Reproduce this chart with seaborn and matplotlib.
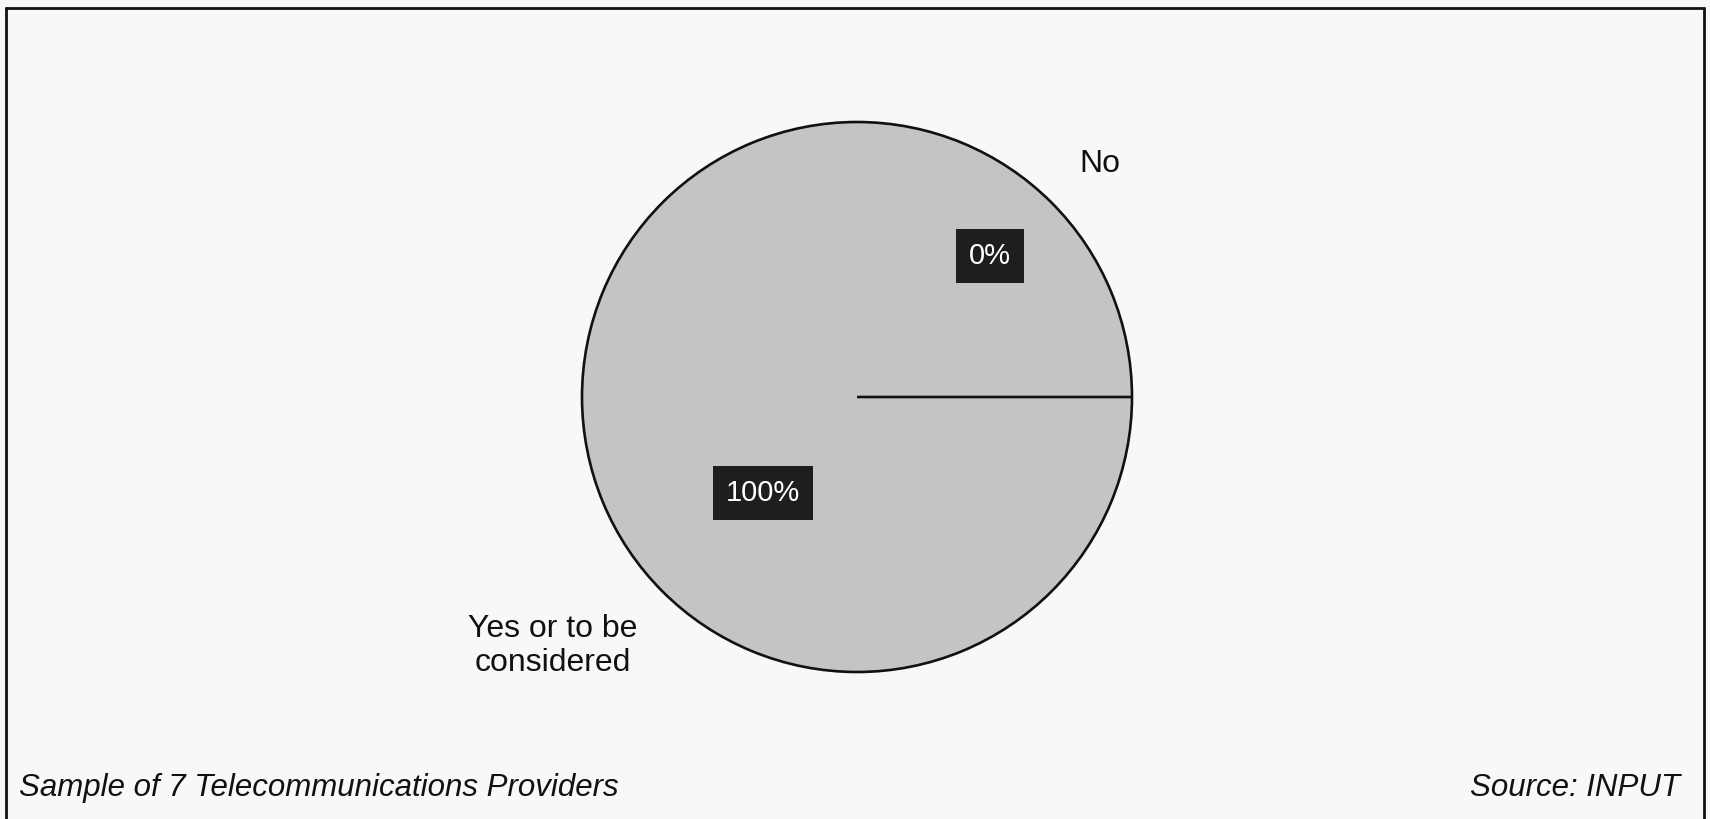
import numpy as np
import matplotlib
matplotlib.use("Agg")
import matplotlib.pyplot as plt
import seaborn as sns
from matplotlib.lines import Line2D

# Survey answers (sample of 7 providers)
answers = ['No', 'Yes or to be\nconsidered']
counts = [0, 7]

sns.set_theme(style='white')
plt.rcParams['font.family'] = ['Liberation Sans', 'DejaVu Sans']

bg = '#f8f8fa'
fig = plt.figure(figsize=(17.1, 8.19), dpi=100, facecolor=bg)

# pie centre at (857, 397) px, radius 275 px
R = 275
k = 1.44
W, H = 1710, 819
half = k * R
ax = fig.add_axes([(857 - half) / W, 1 - (397 + half) / H, 2 * half / W, 2 * half / H])
ax.set_facecolor('none')

wedges, texts, autotexts = ax.pie(
    counts, labels=answers, autopct='%1.0f%%', startangle=0, counterclock=True,
    colors=['#c4c4c4', '#c4c4c4'],
    wedgeprops=dict(edgecolor='#111111', linewidth=1.9),
    textprops=dict(fontsize=20, color='#111111'),
)
# the empty "No" slice only shows as its edge line; keep it on top
wedges[0].set_zorder(3)
ax.set_xlim(-k, k)
ax.set_ylim(-k, k)
ax.set_aspect('equal')
ax.axis('off')

# place labels like the original
label_pos = [(0.884, 0.847), (-1.105, -0.905)]
pct_pos = [(0.484, 0.513), (-0.342, -0.349)]
for t, p in zip(texts, label_pos):
    t.set_position(p)
    t.set_ha('center')
    t.set_va('center')
    t.set_fontsize(23)
    t.set_linespacing(1.2)
for t, p in zip(autotexts, pct_pos):
    t.set_position(p)
    t.set_ha('center')
    t.set_va('center')
    t.set_color('white')
    t.set_fontsize(21)
    t.set_zorder(5)
    t.set_bbox(dict(boxstyle='square,pad=0.45', facecolor='#1e1e20', edgecolor='none'))

# frame around the figure
for xs, ys in [([6 / W, 6 / W], [-0.1, 1 - 8 / H]),
               ([6 / W, 1704 / W], [1 - 8 / H, 1 - 8 / H]),
               ([1704 / W, 1704 / W], [1 - 8 / H, -0.1])]:
    fig.add_artist(Line2D(xs, ys, transform=fig.transFigure, color='#111111', lw=2))

fig.text(19 / W, 1 - 788 / H, 'Sample of 7 Telecommunications Providers',
         fontsize=22.5, style='italic', ha='left', va='center', color='#111111')
fig.text(1680 / W, 1 - 788 / H, 'Source: INPUT',
         fontsize=22.5, style='italic', ha='right', va='center', color='#111111')

fig.savefig('out.png', dpi=100, facecolor=bg)
